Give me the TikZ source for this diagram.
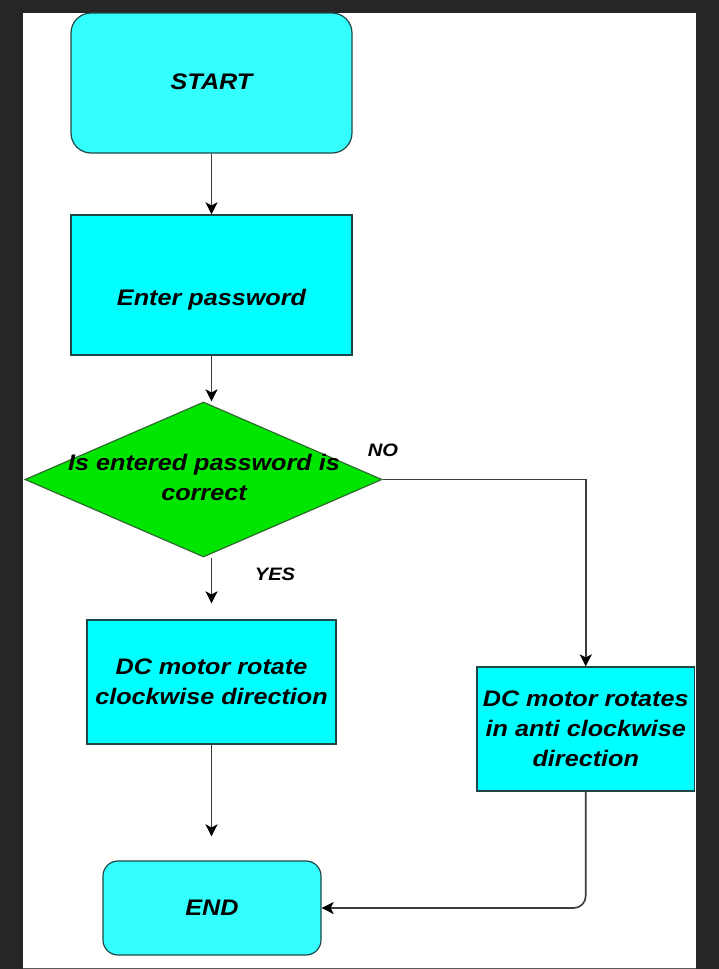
\documentclass[tikz,border=0pt]{standalone}
\usepackage{fontspec}
\setmainfont{Liberation Sans}[FakeStretch=1.12]
\usetikzlibrary{shapes.geometric,arrows.meta}
\definecolor{bgdark}{HTML}{262626}
\definecolor{bottomline}{HTML}{5A5A5A}
\definecolor{cyanA}{HTML}{33FFFF}
\definecolor{cyanB}{HTML}{00FFFF}
\definecolor{greenD}{HTML}{00E600}
\definecolor{edgeC}{HTML}{1F4747}
\definecolor{edgeG}{HTML}{2E6B2E}
\definecolor{lineC}{HTML}{3C3C3C}
\begin{document}
\begin{tikzpicture}[x=1pt,y=-1pt,
  txt/.style={font=\fontsize{22.5}{30}\selectfont\bfseries\itshape, align=center, inner sep=0pt},
  lbl/.style={font=\fontsize{18}{22}\selectfont\bfseries\itshape, inner sep=0pt},
  term/.style={draw=edgeC, fill=cyanA, rounded corners=20pt, line width=1.2pt, inner sep=0pt},
  proc/.style={draw=edgeC, fill=cyanB, line width=1.2pt, inner sep=0pt},
  decision/.style={diamond, draw=edgeG, fill=greenD, line width=1.2pt, inner sep=0pt},
  conn/.style={draw=lineC, line width=1.6pt},
  arr/.style={conn, -{Stealth[length=12pt,width=12pt,inset=3pt,color=black]}}
]
\useasboundingbox (0,0) rectangle (719,969);
\fill[bgdark] (0,0) rectangle (719,969);
\fill[white] (23,12.5) rectangle (696,967.5);
\fill[bottomline] (23,967.5) rectangle (696,969);

% nodes
\node[term, minimum width=281pt, minimum height=140pt] (start) at (211.5,83) {};
\node[txt] (startt) at (211.5,82) {START};

\node[proc, minimum width=281pt, minimum height=140pt] (enter) at (211.5,285) {};
\node[txt] (entert) at (211.5,300) {Enter password};

\node[decision, minimum width=357pt, minimum height=155pt] (dec) at (203.5,479.5) {};
\node[txt] (dect) at (204,477) {Is entered password is\\correct};

\node[proc, minimum width=249pt, minimum height=124pt] (dc1) at (211.5,682) {};
\node[txt] (dc1t) at (211.5,681.5) {DC motor rotate\\clockwise direction};

\node[proc, minimum width=217.5pt, minimum height=124pt] (dc2) at (585.75,729) {};
\node[txt] (dc2t) at (585.75,729) {DC motor rotates\\in anti clockwise\\direction};

\node[term, rounded corners=15pt, minimum width=218pt, minimum height=94pt] (endn) at (212,908) {};
\node[txt] (endt) at (212,908) {END};

\node[lbl] (no) at (383,450) {NO};
\node[lbl] (yes) at (275,574) {YES};

% connectors
\draw[arr] (start.south) -- (enter.north);
\draw[arr] (enter.south) -- (enter.south |- dec.north);
\draw[arr, shorten >=16pt] (dc1.north |- dec.south) -- (dc1.north);
\draw[arr, shorten >=24pt] (dc1.south) -- (dc1.south |- endn.north);
\draw[arr] (dec.east) -| (dc2.north);
\draw[arr, rounded corners=12pt] (dc2.south) |- (endn.east);
\end{tikzpicture}
\end{document}
